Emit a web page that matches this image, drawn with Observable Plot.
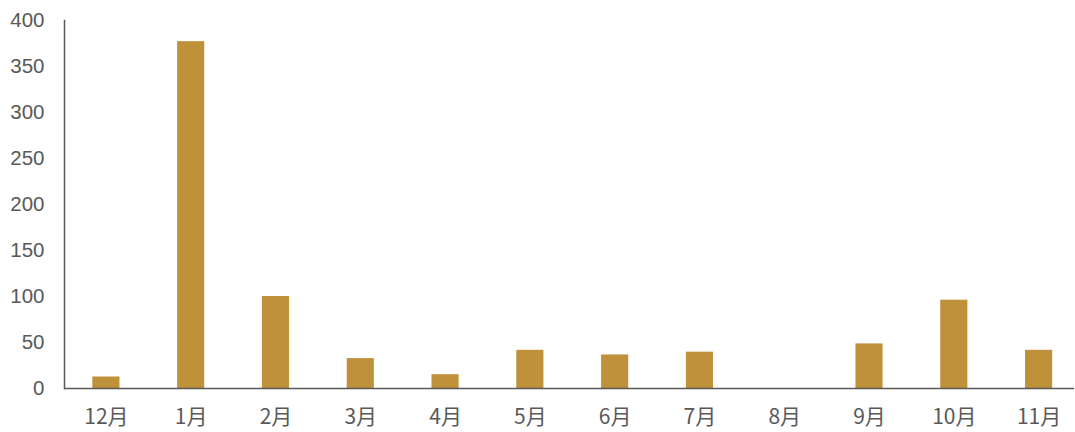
<!DOCTYPE html>
<html>
<head>
<meta charset="utf-8">
<script src="https://cdn.jsdelivr.net/npm/d3@7"></script>
<script src="https://cdn.jsdelivr.net/npm/@observablehq/plot@0.6"></script>
<style>
  html, body { margin: 0; padding: 0; background: #ffffff; }
  #chart svg { display: block; overflow: hidden; }
</style>
</head>
<body>
<div id="chart"></div>
<script>
const months = ["12月", "1月", "2月", "3月", "4月", "5月", "6月", "7月", "8月", "9月", "10月", "11月"];
const values = [12.5, 377, 100, 32.5, 15, 41.5, 36.5, 39.5, 0, 48.5, 96, 41.5];
const yTicks = [0, 50, 100, 150, 200, 250, 300, 350, 400];

const data = months.map((m, i) => ({month: m, value: values[i]}));

const chart = Plot.plot({
  width: 1075,
  height: 432,
  marginTop: 20,
  marginLeft: 64,
  marginRight: 1,
  marginBottom: 44,
  style: {background: "#ffffff", color: "#595959"},
  x: {domain: months, range: [63.5, 1081], paddingInner: 0.68, paddingOuter: 0.34, round: false},
  y: {domain: [0, 400]},
  marks: [
    Plot.barY(data, {x: "month", y: "value", fill: "#BF913B"}),
    Plot.axisY({ticks: yTicks, tickSize: 0, tickPadding: 20, color: "#595959", fontSize: 20.5, fontFamily: "Liberation Sans, Arial, sans-serif", label: null}),
    Plot.axisX({tickSize: 0, tickPadding: 21, color: "#595959", fontSize: 21, fontFamily: "Noto Sans CJK SC, Noto Sans, sans-serif", label: null}),
    Plot.ruleY([0], {stroke: "#595959", strokeWidth: 1.5}),
    Plot.frame({anchor: "left", stroke: "#595959", strokeWidth: 1.5})
  ]
});
document.getElementById("chart").appendChild(chart);
</script>
</body>
</html>
